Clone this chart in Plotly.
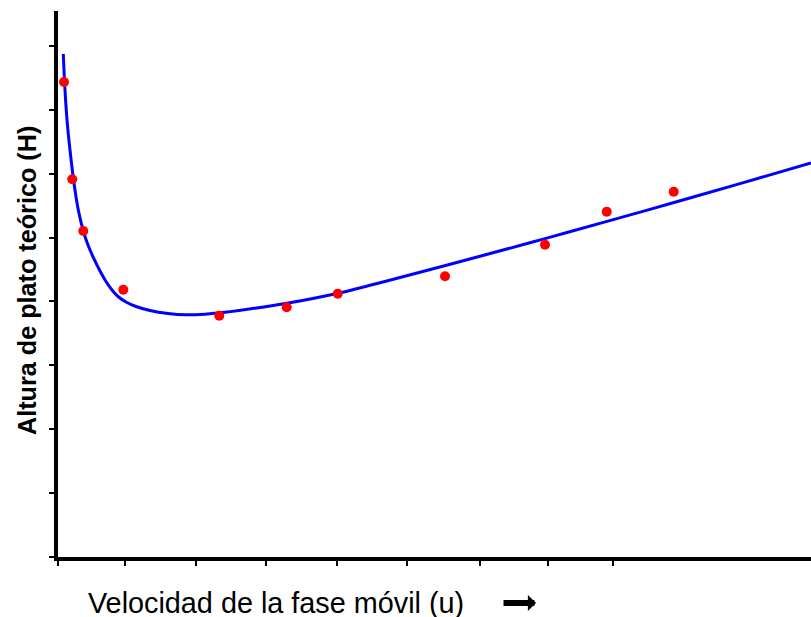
import plotly.graph_objects as go

# Measured plate height H versus mobile-phase velocity u (arbitrary units)
u_points = [0.086, 0.204, 0.361, 0.933, 2.304, 3.267, 3.996, 5.529, 6.957, 7.839, 8.796]
h_points = [7.433, 5.911, 5.102, 4.183, 3.776, 3.908, 4.120, 4.393, 4.887, 5.404, 5.717]

# Fitted van Deemter-type curve, sampled along its length
u_curve = [0.0757, 0.100, 0.1329, 0.1714, 0.2286, 0.290, 0.3614, 0.4286, 0.5143,
           0.600, 0.6857, 0.7714, 0.8571, 0.9714, 1.1143, 1.3143, 1.5714, 1.8286,
           2.100, 2.3857, 2.8857, 3.2714, 4.000, 4.4571, 4.8857, 6.0286, 6.9571,
           7.8429, 8.800, 9.7429, 10.757]
h_curve = [7.872, 7.308, 6.787, 6.369, 5.848, 5.430, 5.102, 4.883, 4.664,
           4.476, 4.311, 4.178, 4.077, 3.991, 3.920, 3.858, 3.811, 3.790,
           3.800, 3.829, 3.905, 3.970, 4.127, 4.252, 4.374, 4.706, 4.983,
           5.252, 5.548, 5.844, 6.166]

# Unlabelled tick positions
x_ticks = [0, 0.95, 1.97, 2.97, 3.99, 4.99, 6.03, 7.0, 7.93]
y_ticks = [0, 1, 2, 3, 4, 5, 6, 7, 8]

x_title = "Velocidad de la fase móvil (u)"
y_title = "Altura de plato teórico (H)"

FONT = "Arial, 'Liberation Sans', sans-serif"

fig = go.Figure()
fig.add_trace(go.Scatter(
    x=u_curve, y=h_curve, mode="lines",
    line=dict(color="#0000FF", width=3, shape="spline", smoothing=1.0),
    hoverinfo="skip", showlegend=False,
))
fig.add_trace(go.Scatter(
    x=u_points, y=h_points, mode="markers",
    marker=dict(color="#FF0000", size=10),
    showlegend=False,
))

axis_common = dict(
    showgrid=False, zeroline=False, showline=True, linecolor="black", linewidth=4,
    ticks="outside", ticklen=5, tickwidth=2, tickcolor="black",
    showticklabels=False, tickmode="array",
)
fig.update_xaxes(range=[0, 10.757], tickvals=x_ticks, **axis_common)
fig.update_yaxes(range=[0, 8.545], tickvals=y_ticks, **axis_common)

fig.add_annotation(
    text=x_title, xref="paper", yref="paper", x=0, y=0,
    xanchor="left", yanchor="middle", xshift=28, yshift=-46,
    showarrow=False, font=dict(family=FONT, size=28.8, color="black"),
)
# Thick arrow pointing to increasing velocity
fig.add_annotation(
    text="", xref="paper", yref="paper", x=0, y=0,
    xshift=478, yshift=-46, ax=-34, ay=0,
    showarrow=True, arrowhead=1, arrowwidth=6, arrowsize=0.45,
    arrowcolor="black", standoff=0,
)
fig.add_annotation(
    text=f"<b>{y_title}</b>", xref="paper", yref="paper", x=0, y=0.5055,
    xanchor="center", yanchor="middle", xshift=-31, textangle=-90,
    showarrow=False, font=dict(family=FONT, size=25.2, color="black"),
)

fig.update_layout(
    width=811, height=617,
    margin=dict(l=58, r=0, t=11, b=60),
    paper_bgcolor="white", plot_bgcolor="white",
)

fig.write_html("out.html")
